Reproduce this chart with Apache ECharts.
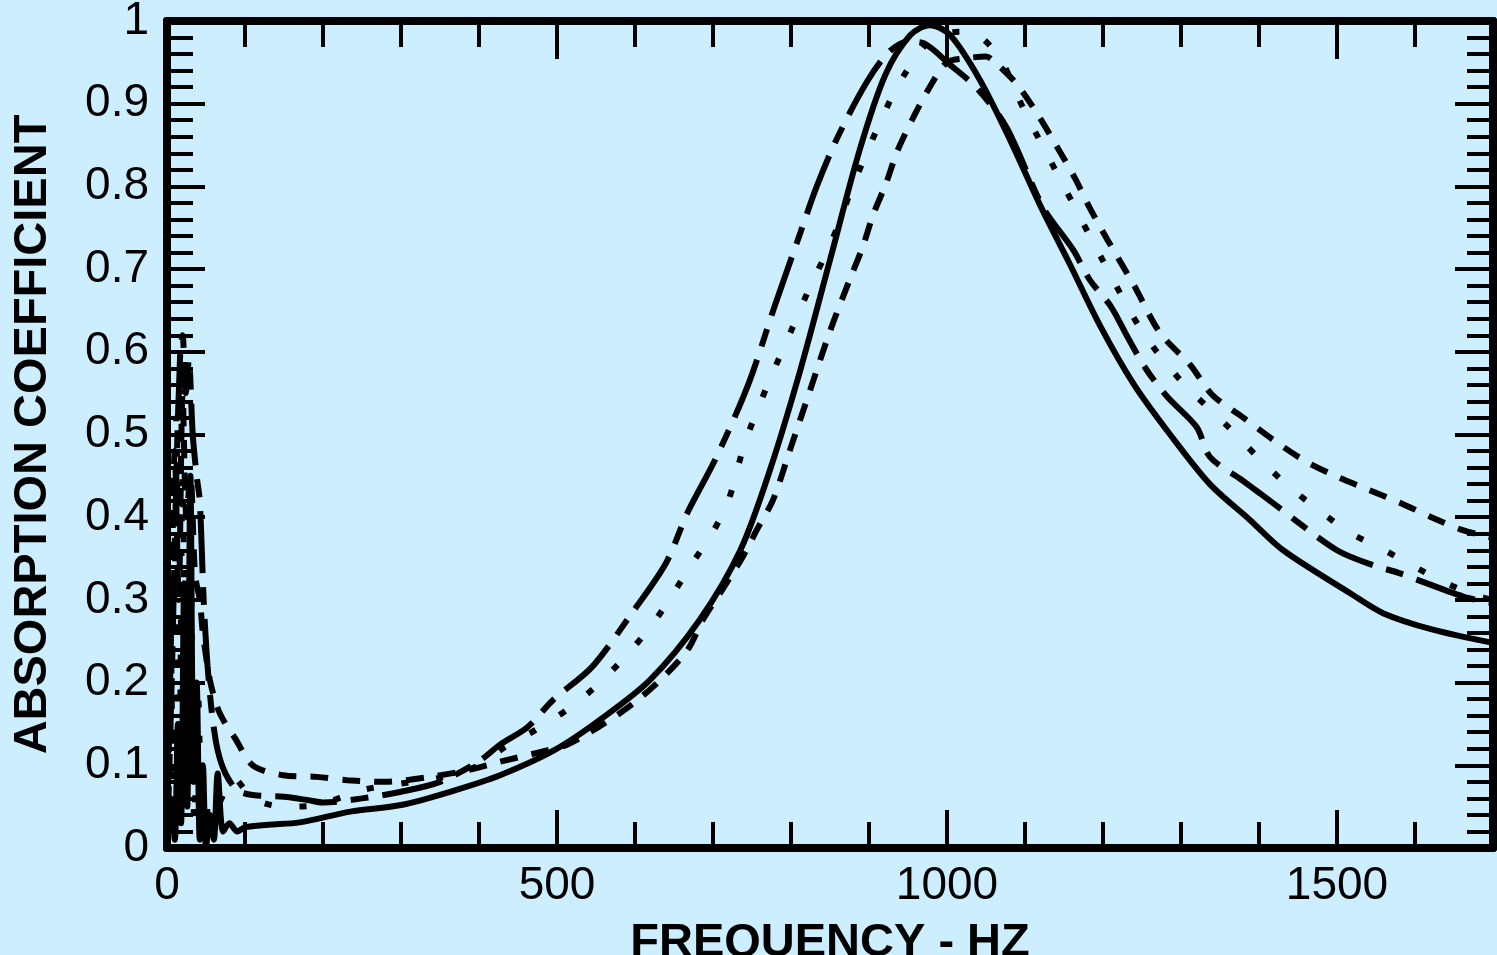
<!DOCTYPE html>
<html>
<head>
<meta charset="utf-8">
<script src="https://cdn.jsdelivr.net/npm/echarts@6/dist/echarts.min.js"></script>
<style>
  html, body { margin: 0; padding: 0; background: #cceeff; }
  #chart { width: 1497px; height: 955px; }
</style>
</head>
<body>
<div id="chart"></div>
<script>
// solid curve
const solidFreq = [0, 5, 10, 14, 18, 22, 26, 30, 34, 38, 42, 46, 50, 55, 60, 65, 72, 80, 90, 100, 130, 170, 235, 300, 363, 427, 496, 555, 619, 683, 735, 773, 812, 850, 888, 921, 953, 978, 1004, 1042, 1081, 1119, 1158, 1196, 1240, 1286, 1337, 1388, 1431, 1517, 1559, 1623, 1700];
const solidAbs = [0, 0.06, 0.01, 0.15, 0.03, 0.32, 0.05, 0.45, 0.08, 0.2, 0.01, 0.1, 0.0, 0.04, 0.01, 0.09, 0.02, 0.03, 0.02, 0.025, 0.028, 0.031, 0.044, 0.052, 0.068, 0.088, 0.118, 0.155, 0.203, 0.276, 0.36, 0.457, 0.578, 0.711, 0.844, 0.935, 0.983, 0.995, 0.983, 0.929, 0.856, 0.778, 0.705, 0.632, 0.56, 0.5, 0.44, 0.397, 0.36, 0.308, 0.284, 0.264, 0.248];

// dash-dot curve
const dashDotFreq = [0, 6, 12, 17, 20, 24, 28, 33, 38, 42, 47, 52, 58, 65, 75, 90, 110, 150, 180, 200, 250, 300, 350, 400, 427, 462, 495, 545, 596, 640, 667, 703, 745, 779, 812, 833, 860, 897, 925, 950, 970, 1004, 1038, 1076, 1123, 1162, 1183, 1210, 1232, 1256, 1283, 1320, 1337, 1378, 1401, 1418, 1500, 1549, 1578, 1662, 1700];
const dashDotAbs = [0, 0.2, 0.45, 0.6, 0.62, 0.55, 0.59, 0.5, 0.45, 0.42, 0.3, 0.22, 0.16, 0.118, 0.09, 0.07, 0.064, 0.062, 0.058, 0.055, 0.06, 0.068, 0.08, 0.105, 0.125, 0.146, 0.179, 0.219, 0.284, 0.345, 0.405, 0.47, 0.56, 0.655, 0.744, 0.8, 0.86, 0.926, 0.962, 0.975, 0.973, 0.947, 0.919, 0.872, 0.775, 0.723, 0.687, 0.655, 0.617, 0.578, 0.545, 0.509, 0.473, 0.445, 0.429, 0.417, 0.36, 0.341, 0.333, 0.304, 0.296];

// dotted curve
const dottedFreq = [0, 4, 8, 12, 16, 20, 25, 30, 35, 40, 45, 50, 55, 62, 70, 85, 110, 150, 192, 250, 300, 350, 400, 433, 473, 514, 553, 588, 622, 649, 674, 699, 719, 741, 770, 800, 825, 847, 863, 878, 895, 912, 931, 955, 987, 1027, 1065, 1100, 1150, 1200, 1250, 1300, 1363, 1399, 1436, 1476, 1517, 1555, 1596, 1636, 1677, 1700];
const dottedAbs = [0, 0.3, 0.05, 0.52, 0.1, 0.45, 0.05, 0.35, 0.03, 0.18, 0.02, 0.06, 0.01, 0.04, 0.06, 0.085, 0.06, 0.05, 0.052, 0.07, 0.078, 0.085, 0.1, 0.122, 0.143, 0.168, 0.198, 0.232, 0.27, 0.308, 0.345, 0.381, 0.418, 0.49, 0.56, 0.625, 0.68, 0.723, 0.759, 0.798, 0.836, 0.873, 0.911, 0.949, 0.983, 0.987, 0.959, 0.89, 0.8, 0.71, 0.625, 0.565, 0.507, 0.472, 0.439, 0.409, 0.381, 0.363, 0.342, 0.322, 0.306, 0.30];

// dashed curve
const dashedFreq = [0, 5, 10, 15, 20, 25, 30, 36, 42, 46, 55, 65, 75, 87, 110, 149, 192, 231, 280, 330, 380, 430, 474, 513, 551, 591, 629, 667, 687, 713, 738, 758, 777, 800, 825, 850, 876, 892, 905, 922, 936, 955, 976, 1000, 1025, 1050, 1064, 1090, 1117, 1141, 1164, 1183, 1206, 1240, 1273, 1312, 1340, 1379, 1419, 1459, 1500, 1541, 1582, 1621, 1659, 1700];
const dashedAbs = [0, 0.25, 0.48, 0.3, 0.55, 0.4, 0.45, 0.33, 0.3, 0.26, 0.203, 0.169, 0.15, 0.133, 0.10, 0.088, 0.086, 0.082, 0.08, 0.085, 0.093, 0.105, 0.115, 0.125, 0.145, 0.17, 0.2, 0.239, 0.276, 0.314, 0.352, 0.388, 0.421, 0.485, 0.555, 0.625, 0.689, 0.727, 0.765, 0.804, 0.842, 0.88, 0.917, 0.95, 0.955, 0.957, 0.948, 0.923, 0.886, 0.848, 0.81, 0.774, 0.735, 0.68, 0.623, 0.584, 0.548, 0.521, 0.493, 0.468, 0.449, 0.433, 0.417, 0.40, 0.385, 0.375];

const FONT = '"Liberation Sans", Arial, sans-serif';

function pairs(xs, ys) {
  return xs.map((x, i) => [x, ys[i]]);
}

function line(name, xs, ys, type) {
  return {
    name: name,
    type: 'line',
    data: pairs(xs, ys),
    showSymbol: false,
    smooth: 0.3,
    lineStyle: { color: '#000', width: 6, type: type, cap: 'butt' },
    z: 3
  };
}

function xAxisDef(pos, interval, len, labels) {
  return {
    type: 'value', position: pos, min: 0, max: 1700, interval: interval,
    axisLine: { show: true, onZero: false, lineStyle: { color: '#000', width: 8 } },
    axisTick: { show: true, inside: true, length: len, lineStyle: { color: '#000', width: 4 } },
    axisLabel: {
      show: labels, showMaxLabel: false, margin: 15, color: '#000', fontSize: 46, fontFamily: FONT,
      formatter: (v) => String(v)
    },
    splitLine: { show: false },
    name: labels ? 'FREQUENCY - HZ' : '',
    nameLocation: 'middle', nameGap: 72,
    nameTextStyle: { color: '#000', fontSize: 47, fontWeight: 'bold', fontFamily: FONT }
  };
}

function yAxisDef(pos, labels) {
  return {
    type: 'value', position: pos, min: 0, max: 1, interval: 0.1,
    axisLine: { show: true, onZero: false, lineStyle: { color: '#000', width: 8 } },
    axisTick: { show: true, inside: true, length: 38, lineStyle: { color: '#000', width: 4 } },
    minorTick: { show: true, splitNumber: 5, length: 26, lineStyle: { color: '#000', width: 4 } },
    axisLabel: { show: labels, margin: 18, color: '#000', fontSize: 46, fontFamily: FONT },
    splitLine: { show: false },
    minorSplitLine: { show: false },
    name: labels ? 'ABSORPTION COEFFICIENT' : '',
    nameLocation: 'middle', nameGap: 110,
    nameTextStyle: { color: '#000', fontSize: 47, fontWeight: 'bold', fontFamily: FONT }
  };
}

const chart = echarts.init(document.getElementById('chart'));
chart.setOption({
  backgroundColor: '#cceeff',
  animation: false,
  grid: { left: 167, right: 4, top: 21, bottom: 107, containLabel: false, outerBoundsMode: 'none' },
  xAxis: [
    xAxisDef('bottom', 500, 38, true),
    xAxisDef('bottom', 100, 26, false),
    xAxisDef('top', 500, 38, false),
    xAxisDef('top', 100, 26, false)
  ],
  yAxis: [
    yAxisDef('left', true),
    yAxisDef('right', false)
  ],
  series: [
    line('solid', solidFreq, solidAbs, 'solid'),
    line('dashdot', dashDotFreq, dashDotAbs, [62, 14, 18, 14]),
    line('dotted', dottedFreq, dottedAbs, [7, 28]),
    line('dashed', dashedFreq, dashedAbs, [18, 14])
  ]
});
</script>
</body>
</html>
